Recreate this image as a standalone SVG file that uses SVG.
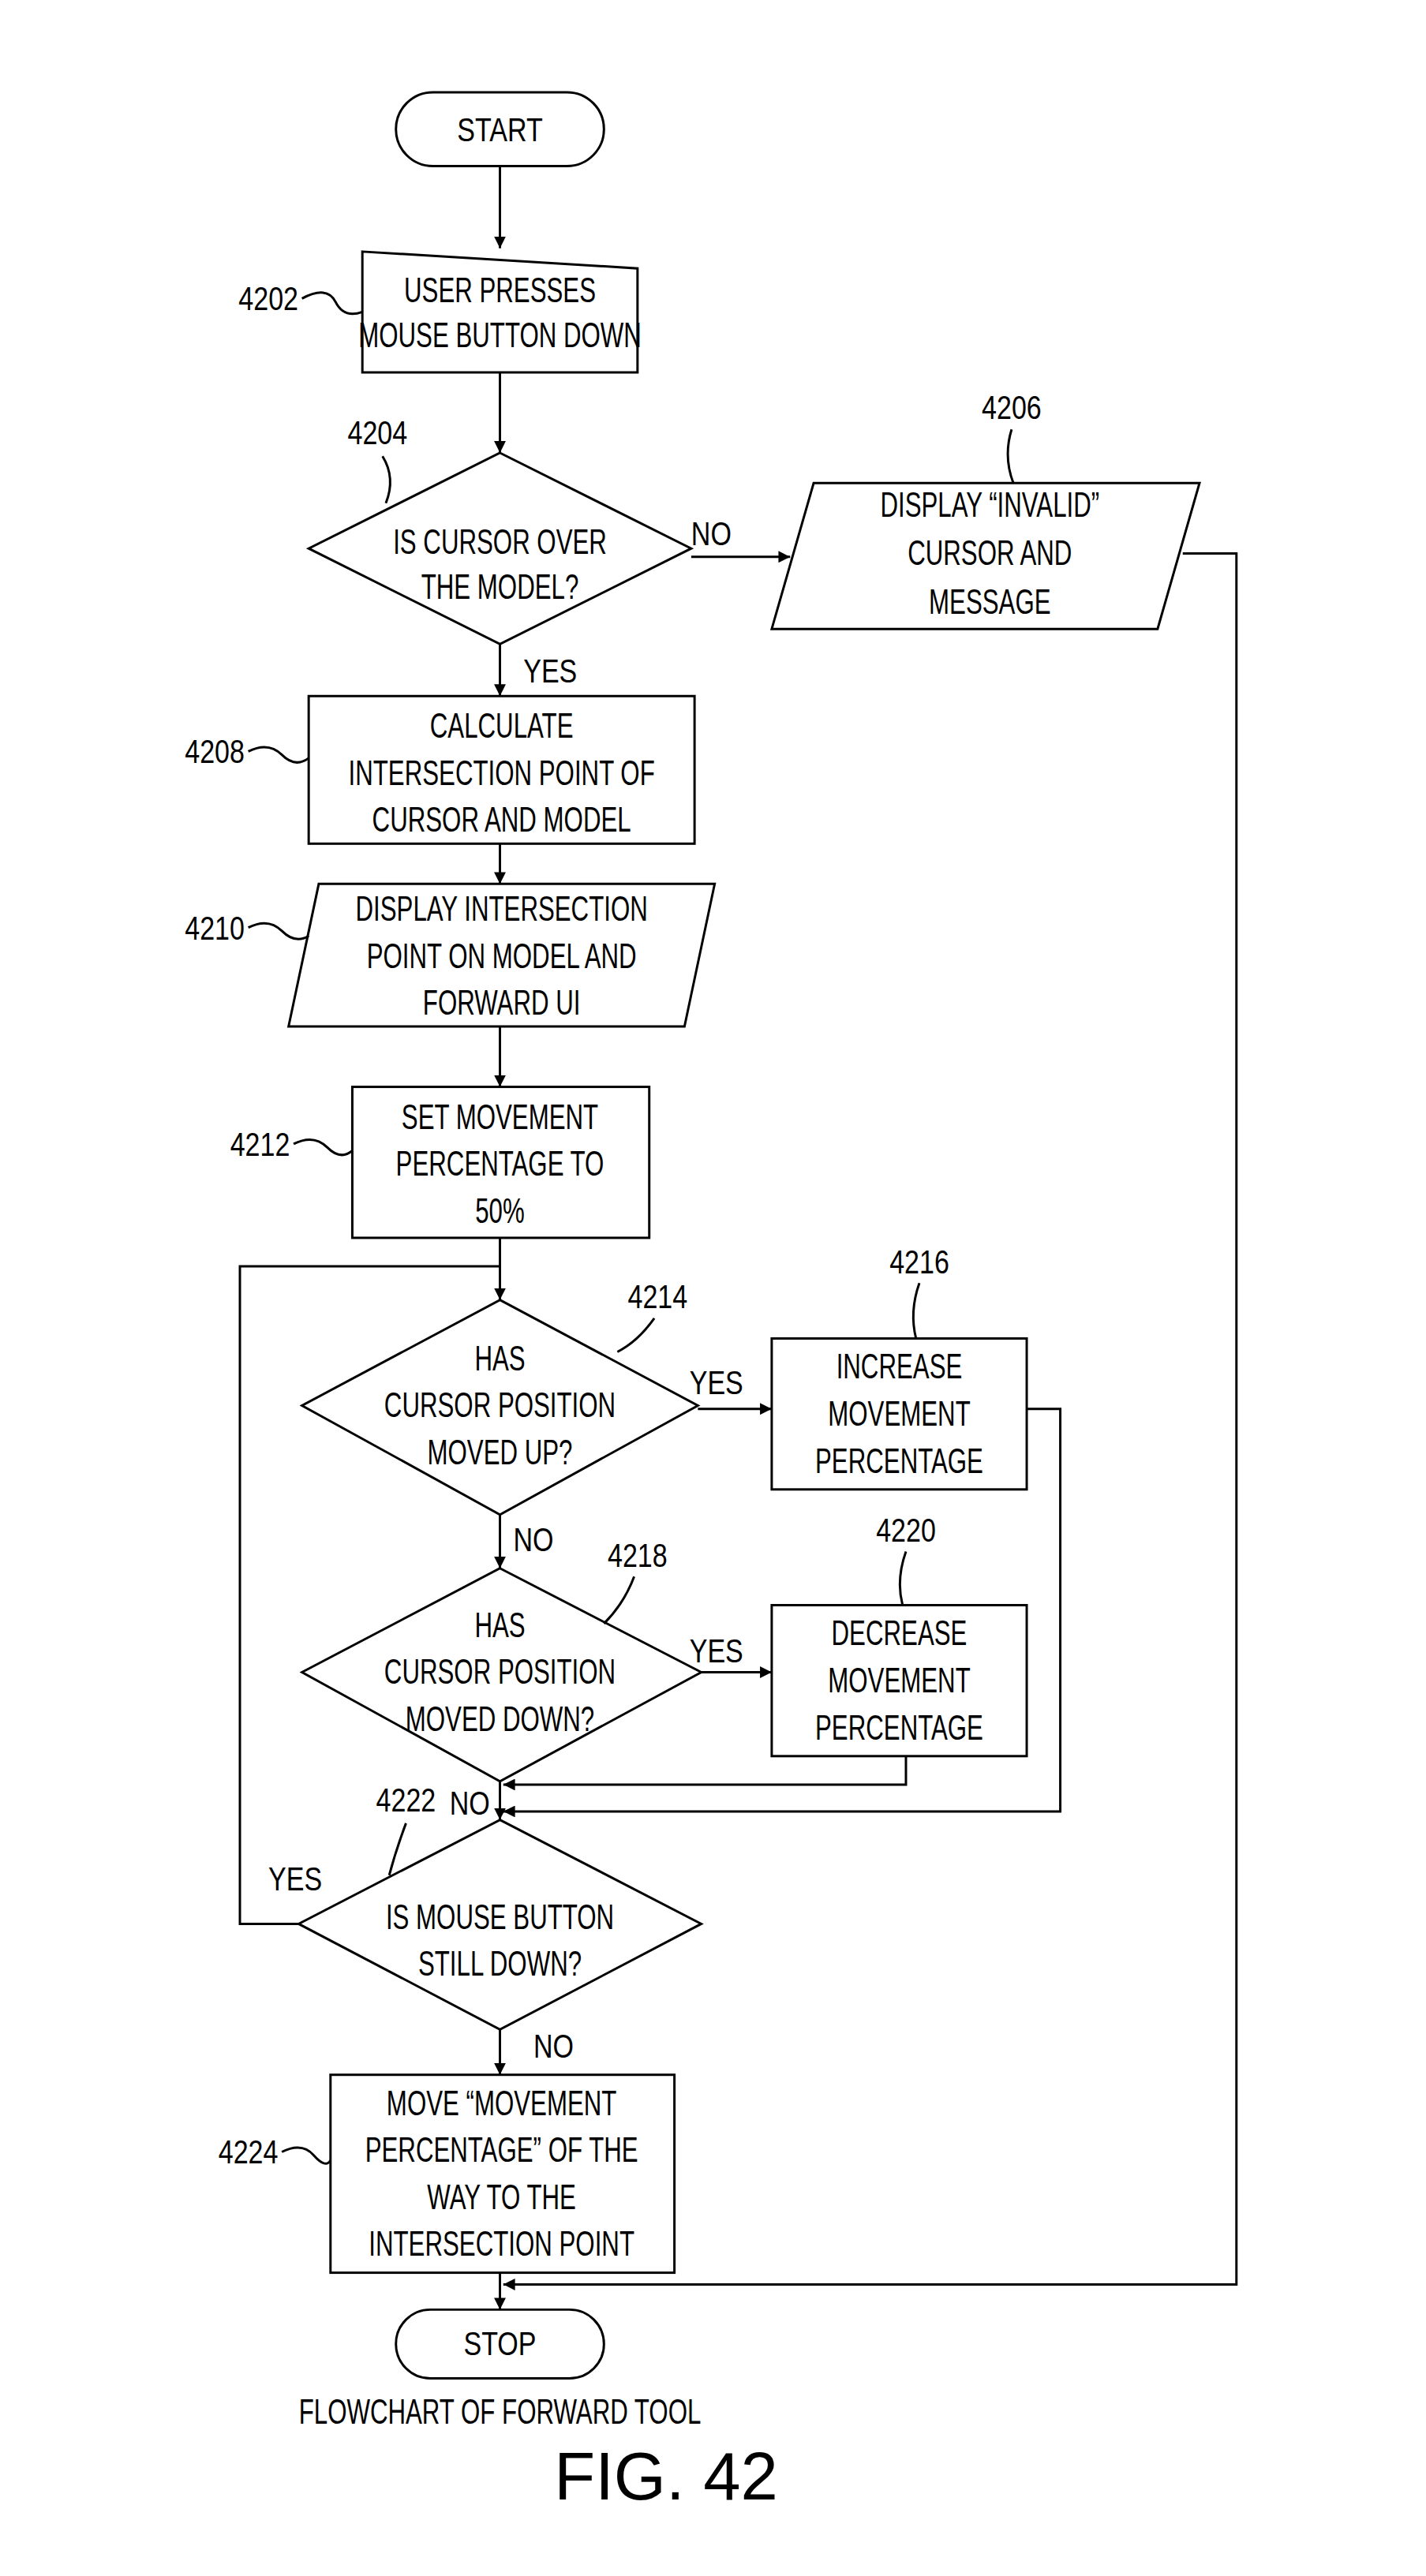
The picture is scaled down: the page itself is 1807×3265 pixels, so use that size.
<svg xmlns="http://www.w3.org/2000/svg" width="1807" height="3265" viewBox="0 0 1807 3265">
<style>
.s{fill:none;stroke:#000;stroke-width:1.4}
.b{fill:#fff;stroke:#000;stroke-width:1.4}
text{font-family:"Liberation Sans",Arial,sans-serif;fill:#000}
.t{font-size:21px;text-anchor:middle;transform-box:fill-box;transform-origin:center;transform:scaleX(0.7)}
.l{font-size:20px;text-anchor:middle;transform-box:fill-box;transform-origin:center;transform:scaleX(0.8)}
</style>
<defs>
<marker id="a" viewBox="0 0 10 10" refX="10" refY="5" markerWidth="7" markerHeight="7" markerUnits="userSpaceOnUse" orient="auto"><path d="M0,0 L10,5 L0,10 z" fill="#000"/></marker>
</defs>
<rect width="1807" height="3265" fill="#fff"/>
<g transform="scale(2.1259)">
<g id="connectors">
<path class="s" d="M298,99 V148" marker-end="url(#a)"/>
<path class="s" d="M298,222 V270" marker-end="url(#a)"/>
<path class="s" d="M412,332 H471" marker-end="url(#a)"/>
<path class="s" d="M705,330 H737 V1362 H300" marker-end="url(#a)"/>
<path class="s" d="M298,384 V415" marker-end="url(#a)"/>
<path class="s" d="M298,503 V527" marker-end="url(#a)"/>
<path class="s" d="M298,612 V648" marker-end="url(#a)"/>
<path class="s" d="M298,738 V775" marker-end="url(#a)"/>
<path class="s" d="M178,1147 H143 V755 H298"/>
<path class="s" d="M416,840 H460" marker-end="url(#a)"/>
<path class="s" d="M612,840 H632 V1080 H300" marker-end="url(#a)"/>
<path class="s" d="M298,903 V935" marker-end="url(#a)"/>
<path class="s" d="M418,997 H460" marker-end="url(#a)"/>
<path class="s" d="M540,1047 V1064 H300" marker-end="url(#a)"/>
<path class="s" d="M298,1062 V1085" marker-end="url(#a)"/>
<path class="s" d="M298,1210 V1237" marker-end="url(#a)"/>
<path class="s" d="M298,1355 V1377" marker-end="url(#a)"/>
<text class="l" x="424" y="325">NO</text>
<text class="l" x="328" y="407">YES</text>
<text class="l" x="427" y="831">YES</text>
<text class="l" x="318" y="925">NO</text>
<text class="l" x="427" y="991">YES</text>
<text class="l" x="280" y="1082">NO</text>
<text class="l" x="176" y="1127">YES</text>
<text class="l" x="330" y="1227">NO</text>
</g>
<g id="start"><rect class="b" x="236" y="55" width="124" height="44" rx="22"/><text class="l" x="298" y="84">START</text></g>
<g id="n4202"><path class="b" d="M216,150 L380,160 V222 H216 Z"/><text class="t" x="298" y="180">USER PRESSES</text><text class="t" x="298" y="207">MOUSE BUTTON DOWN</text>
<text class="l" x="160" y="185">4202</text><path class="s" d="M180,178 Q195,170 200,180 T216,186"/></g>
<g id="n4204"><path class="b" d="M298,270 L412,327 L298,384 L184,327 Z"/><text class="t" x="298" y="330">IS CURSOR OVER</text><text class="t" x="298" y="357">THE MODEL?</text>
<text class="l" x="225" y="265">4204</text><path class="s" d="M228,272 Q236,285 230,300"/></g>
<g id="n4206"><path class="b" d="M485,288 H715 L690,375 H460 Z"/><text class="t" x="590" y="308">DISPLAY “INVALID”</text><text class="t" x="590" y="337">CURSOR AND</text><text class="t" x="590" y="366">MESSAGE</text>
<text class="l" x="603" y="250">4206</text><path class="s" d="M603,256 Q598,272 604,288"/></g>
<g id="n4208"><rect class="b" x="184" y="415" width="230" height="88"/><text class="t" x="299" y="440">CALCULATE</text><text class="t" x="299" y="468">INTERSECTION POINT OF</text><text class="t" x="299" y="496">CURSOR AND MODEL</text>
<text class="l" x="128" y="455">4208</text><path class="s" d="M148,448 Q160,442 168,450 T184,452"/></g>
<g id="n4210"><path class="b" d="M190,527 H426 L408,612 H172 Z"/><text class="t" x="299" y="549">DISPLAY INTERSECTION</text><text class="t" x="299" y="577">POINT ON MODEL AND</text><text class="t" x="299" y="605">FORWARD UI</text>
<text class="l" x="128" y="560">4210</text><path class="s" d="M148,553 Q160,547 168,555 T184,558"/></g>
<g id="n4212"><rect class="b" x="210" y="648" width="177" height="90"/><text class="t" x="298" y="673">SET MOVEMENT</text><text class="t" x="298" y="701">PERCENTAGE TO</text><text class="t" x="298" y="729">50%</text>
<text class="l" x="155" y="689">4212</text><path class="s" d="M175,682 Q187,676 195,684 T210,686"/></g>
<g id="n4214"><path class="b" d="M298,775 L416,838 L298,903 L180,838 Z"/><text class="t" x="298" y="817">HAS</text><text class="t" x="298" y="845">CURSOR POSITION</text><text class="t" x="298" y="873">MOVED UP?</text>
<text class="l" x="392" y="780">4214</text><path class="s" d="M390,786 Q380,800 368,806"/></g>
<g id="n4216"><rect class="b" x="460" y="798" width="152" height="90"/><text class="t" x="536" y="822">INCREASE</text><text class="t" x="536" y="850">MOVEMENT</text><text class="t" x="536" y="878">PERCENTAGE</text>
<text class="l" x="548" y="759">4216</text><path class="s" d="M548,765 Q542,782 546,798"/></g>
<g id="n4218"><path class="b" d="M298,935 L418,997 L298,1062 L180,997 Z"/><text class="t" x="298" y="976">HAS</text><text class="t" x="298" y="1004">CURSOR POSITION</text><text class="t" x="298" y="1032">MOVED DOWN?</text>
<text class="l" x="380" y="934">4218</text><path class="s" d="M378,940 Q372,956 360,968"/></g>
<g id="n4220"><rect class="b" x="460" y="957" width="152" height="90"/><text class="t" x="536" y="981">DECREASE</text><text class="t" x="536" y="1009">MOVEMENT</text><text class="t" x="536" y="1037">PERCENTAGE</text>
<text class="l" x="540" y="919">4220</text><path class="s" d="M540,925 Q534,942 538,957"/></g>
<g id="n4222"><path class="b" d="M298,1085 L418,1147 L298,1210 L178,1147 Z"/><text class="t" x="298" y="1150">IS MOUSE BUTTON</text><text class="t" x="298" y="1178">STILL DOWN?</text>
<text class="l" x="242" y="1080">4222</text><path class="s" d="M242,1087 Q236,1103 232,1118"/></g>
<g id="n4224"><rect class="b" x="197" y="1237" width="205" height="118"/><text class="t" x="299" y="1261">MOVE “MOVEMENT</text><text class="t" x="299" y="1289">PERCENTAGE” OF THE</text><text class="t" x="299" y="1317">WAY TO THE</text><text class="t" x="299" y="1345">INTERSECTION POINT</text>
<text class="l" x="148" y="1290">4224</text><path class="s" d="M168,1283 Q180,1277 187,1285 T197,1288"/></g>
<g id="stop"><rect class="b" x="236" y="1377" width="124" height="41" rx="20.5"/><text class="l" x="298" y="1404">STOP</text></g>
<text class="t" x="298" y="1445">FLOWCHART OF FORWARD TOOL</text>
<text x="397" y="1490" font-size="40" text-anchor="middle">FIG. 42</text>
</g>
</svg>
